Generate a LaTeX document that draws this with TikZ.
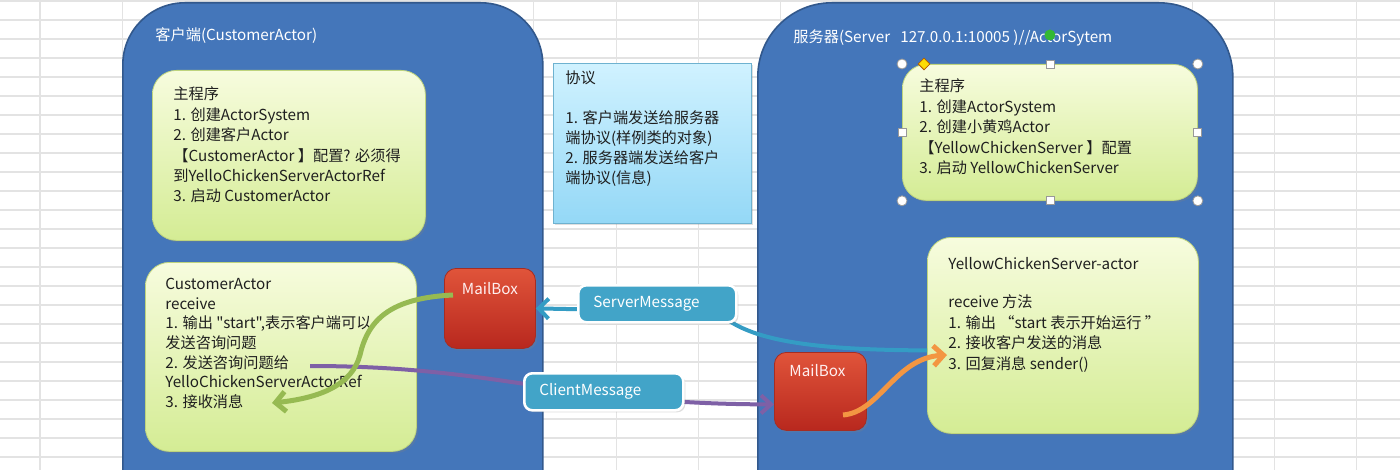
\documentclass[tikz,border=0pt]{standalone}
\usepackage{fontspec}
\newfontfamily\cjkfont{Noto Sans CJK SC}
\usetikzlibrary{positioning,arrows.meta,shadows,shapes.geometric}
\definecolor{panelblue}{RGB}{68,118,186}
\definecolor{panelline}{RGB}{50,88,140}
\definecolor{greentop}{RGB}{247,252,222}
\definecolor{greenbot}{RGB}{212,236,148}
\definecolor{greenline}{RGB}{190,212,125}
\definecolor{redtop}{RGB}{224,84,58}
\definecolor{redbot}{RGB}{184,40,30}
\definecolor{redline}{RGB}{165,45,35}
\definecolor{prototop}{RGB}{208,242,255}
\definecolor{protobot}{RGB}{148,216,246}
\definecolor{protoline}{RGB}{110,178,208}
\definecolor{msgteal}{RGB}{66,164,200}
\definecolor{arrgreen}{RGB}{150,186,82}
\definecolor{arrpurple}{RGB}{126,96,166}
\definecolor{arrteal}{RGB}{52,156,196}
\definecolor{arrorange}{RGB}{243,150,66}
\tikzset{
  panel/.style={rectangle, draw=panelline, line width=0.8pt, fill=panelblue,
                anchor=north west, inner sep=0pt},
  greenbox/.style={rectangle, rounded corners=12pt, draw=greenline, top color=greentop,
                   bottom color=greenbot, anchor=north west, inner sep=0pt,
                   drop shadow={opacity=0.25, shadow xshift=1pt, shadow yshift=-1pt}},
  mailbox/.style={rectangle, rounded corners=6pt, draw=redline, top color=redtop,
                  bottom color=redbot, anchor=north west, inner sep=0pt,
                  drop shadow={opacity=0.25, shadow xshift=1pt, shadow yshift=-1pt}},
  protobox/.style={rectangle, draw=protoline, top color=prototop, bottom color=protobot,
                   anchor=north west, inner sep=0pt,
                   drop shadow={opacity=0.25, shadow xshift=1pt, shadow yshift=-1pt}},
  msgbox/.style={rectangle, rounded corners=4pt, draw=white, line width=1.3pt, fill=msgteal,
                 text=white, align=left, anchor=north west, inner xsep=7.5pt, inner ysep=0pt,
                 minimum height=18.5pt, font=\cjkfont\fontsize{7.6}{9}\selectfont,
                 drop shadow={opacity=0.25, shadow xshift=1pt, shadow yshift=-1pt}},
  txt/.style={anchor=north west, align=left, inner sep=0pt, text=black!88,
              font=\cjkfont\fontsize{7.6}{10.2}\selectfont},
  ttl/.style={anchor=west, inner sep=0pt, text=white, font=\cjkfont\fontsize{7.6}{9}\selectfont},
  mbtxt/.style={anchor=north, inner sep=0pt, text=white!94!red, font=\cjkfont\fontsize{7.6}{9}\selectfont},
  flowarr/.style={line width=2.5pt, -{Straight Barb[length=5pt,width=10pt]}},
  hdlc/.style={circle, draw=gray!80, fill=white, minimum size=5pt, inner sep=0pt},
  hdls/.style={rectangle, draw=gray!80, fill=white, minimum size=4pt, inner sep=0pt},
}
\begin{document}
\begin{tikzpicture}[x=0.5pt,y=-0.5pt]
\useasboundingbox (0,0) rectangle (1400,470);
\clip (0,0) rectangle (1400,470);
% spreadsheet grid
\fill[white] (0,0) rectangle (1400,470);
\foreach \r in {0,...,24}{
  \draw[gray!22, line width=0.6pt] (0,{1+19*\r}) -- (1400,{1+19*\r});
}
\foreach \c in {0,...,16}{
  \draw[gray!22, line width=0.6pt] ({40+82.3*\c},0) -- ({40+82.3*\c},470);
}
% client / server panels
\node[panel, rounded corners=31pt, minimum width=210pt, minimum height=300pt] (client) at (122,2) {};
\node[panel, rounded corners=37pt, minimum width=237.5pt, minimum height=300pt] (server) at (757,2) {};
\node[ttl] (clientT) at (155,36) {客户端(CustomerActor)};
\node[ttl] (serverT) at (793,38) {服务器(Server\ \ \ 127.0.0.1:10005 )//ActorSytem};
% client side
\node[greenbox, minimum width=136.5pt, minimum height=85pt] (cmain) at (152,70) {};
\node[txt] (cmainT) at ([xshift=10.5pt,yshift=-8.3pt]cmain.north west)
  {主程序\\1. 创建ActorSystem\\2. 创建客户Actor\\【CustomerActor 】配置? 必须得\\到YelloChickenServerActorRef\\3. 启动 CustomerActor};
\node[greenbox, minimum width=135.5pt, minimum height=94.5pt] (cact) at (145,262) {};
\node[txt, font=\cjkfont\fontsize{7.6}{9.8}\selectfont] (cactT) at ([xshift=10pt,yshift=-8pt]cact.north west)
  {CustomerActor\\receive\\1. 输出 "start",表示客户端可以\\发送咨询问题\\2. 发送咨询问题给\\YelloChickenServerActorRef\\3. 接收消息};
\node[mailbox, minimum width=45.5pt, minimum height=40pt] (cmb) at (444,268) {};
\node[mbtxt] (cmbT) at ([yshift=-7pt]cmb.north) {MailBox};
% protocol
\node[protobox, minimum width=99pt, minimum height=80pt] (proto) at (553,63) {};
\node[txt, font=\cjkfont\fontsize{7.6}{10}\selectfont] (protoT) at ([xshift=6pt,yshift=-3.5pt]proto.north west)
  {协议\\[10pt]1. 客户端发送给服务器\\端协议(样例类的对象)\\2. 服务器端发送给客户\\端协议(信息)};
% server side
\node[greenbox, minimum width=147.5pt, minimum height=68pt] (smain) at (902,64) {};
\node[txt] (smainT) at ([xshift=8.5pt,yshift=-7.3pt]smain.north west)
  {主程序\\1. 创建ActorSystem\\2. 创建小黄鸡Actor\\【YellowChickenServer 】配置\\3. 启动 YellowChickenServer};
\node[greenbox, minimum width=135.5pt, minimum height=98pt] (sact) at (927,237) {};
\node[txt] (sactT) at ([xshift=10.5pt,yshift=-10pt]sact.north west)
  {YellowChickenServer-actor\\[9pt]receive 方法\\1. 输出 “start 表示开始运行 ”\\2. 接收客户发送的消息\\3. 回复消息 sender()};
\node[mailbox, minimum width=46pt, minimum height=39pt] (smb) at (774,352) {};
\node[mbtxt] (smbT) at ([xshift=-1.5pt,yshift=-6pt]smb.north) {MailBox};
% message flow
\coordinate (pStart) at (310,366);
\draw[arrpurple, line width=2pt, -{Straight Barb[length=5pt,width=9pt]}]
  (pStart) .. controls (500,366) and (560,404) .. ([yshift=-6.5pt]smb.west);
\draw[arrteal, line width=2pt, -{Straight Barb[length=5pt,width=10pt]}]
  ([yshift=-7.5pt]sact.west) .. controls (800,350) and (745,338) .. (718,312) -- (cmb.east);
\node[msgbox, text width=64pt] (smsg) at (577,284) {ServerMessage};
\node[msgbox, text width=64.5pt] (cmsg) at (523,372) {ClientMessage};
\coordinate (cmbOut) at (453,295);
\coordinate (cactIn) at (272,403);
\draw[flowarr, arrgreen] (cmbOut) .. controls (390,298) and (368,320) .. (360,355)
  .. controls (352,385) and (320,398) .. (cactIn);
\coordinate (smbOut) at (843,415);
\coordinate (sactIn) at (947,355);
\draw[flowarr, arrorange] (smbOut) .. controls (880,412) and (895,358) .. (sactIn);
% selection handles
\foreach \a/\n in {north west/nw, north east/ne, south west/sw, south east/se}{
  \node[hdlc] (h\n) at (smain.\a) {};
}
\foreach \a/\n in {north/n, south/s, west/w, east/e}{
  \node[hdls] (h\n) at (smain.\a) {};
}
\node[diamond, draw=orange!70!black, fill=yellow!80!orange, minimum size=6pt, inner sep=0pt] (hy)
  at ([xshift=11pt]smain.north west) {};
\node[circle, fill=green!65!black!80, minimum size=5.5pt, inner sep=0pt] (hrot)
  at ([yshift=14.5pt]smain.north) {};
\end{tikzpicture}
\end{document}
